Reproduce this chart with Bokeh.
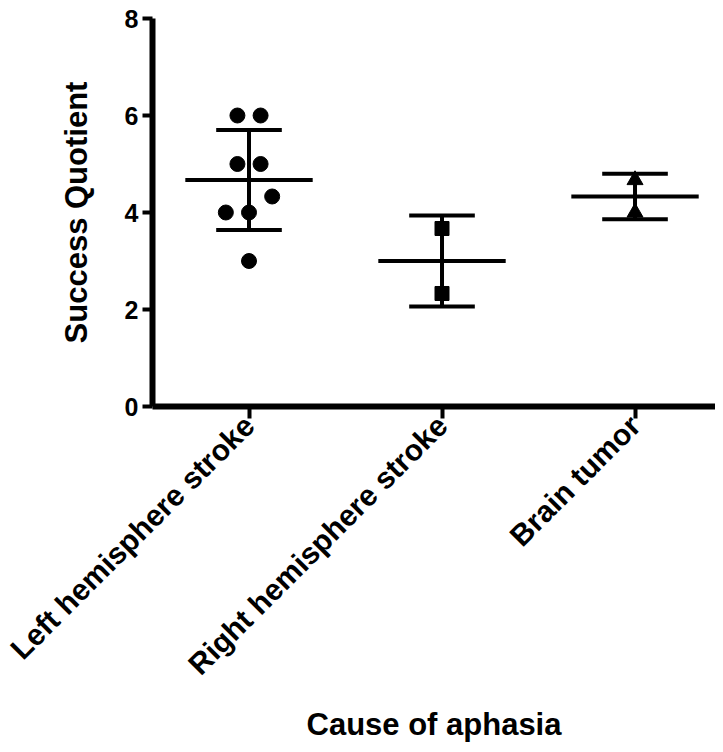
import math
from bokeh.plotting import figure
from bokeh.models import FixedTicker, Range1d
from bokeh.embed import file_html
from bokeh.resources import INLINE

categories = ["Left hemisphere stroke", "Right hemisphere stroke", "Brain tumor"]
cat_pos = [1, 2, 3]

left_vals = [6, 6, 5, 5, 4.33, 4, 4, 3]
left_offsets = [-0.06, 0.06, -0.06, 0.06, 0.12, -0.12, 0.0, 0.0]
right_vals = [3.67, 2.33]
tumor_vals = [4.67, 4.0]

means = [4.67, 3.0, 4.33]
sds = [1.03, 0.94, 0.47]

y_ticks = [0, 2, 4, 6, 8]

FONT = "Liberation Sans"

p = figure(width=715, height=744, output_backend="svg", toolbar_location=None,
           x_range=Range1d(0.5, 3.417), y_range=Range1d(0, 8),
           min_border_left=152, min_border_top=18, min_border_right=0, min_border_bottom=0)
p.grid.visible = False
p.outline_line_color = None
p.background_fill_color = "white"

# axes styling
for ax in (p.xaxis[0], p.yaxis[0]):
    ax.axis_line_width = 6
    ax.major_tick_line_width = 4
    ax.minor_tick_line_color = None
    ax.major_label_text_font = FONT
    ax.major_label_text_font_style = "bold"
    ax.axis_label_text_font = FONT
    ax.axis_label_text_font_style = "bold"
    ax.axis_label_text_font_size = "31px"
    ax.major_label_text_color = "black"
    ax.axis_label_text_color = "black"
    ax.axis_line_color = "black"
    ax.major_tick_line_color = "black"

p.yaxis.ticker = FixedTicker(ticks=y_ticks)
p.yaxis.major_tick_out = 10
p.yaxis.major_tick_in = 0
p.yaxis.major_label_text_font_size = "25px"
p.yaxis.major_label_standoff = 4
p.yaxis.axis_label = "Success Quotient"
p.yaxis.axis_label_standoff = 28

p.xaxis.ticker = FixedTicker(ticks=cat_pos)
p.xaxis.major_label_overrides = {c: lab for c, lab in zip(cat_pos, categories)}
p.xaxis.major_tick_out = 12
p.xaxis.major_tick_in = 0
p.xaxis.major_label_text_font_size = "30px"
p.xaxis.major_label_orientation = math.pi / 4
p.xaxis.major_label_standoff = 2
p.xaxis.axis_label = "Cause of aphasia"
p.xaxis.axis_label_standoff = 11

# points
p.scatter([cat_pos[0] + o for o in left_offsets], left_vals, marker="circle",
          size=15, color="black")
p.scatter([cat_pos[1]] * len(right_vals), right_vals, marker="square",
          size=14, color="black")
p.scatter([cat_pos[2]] * len(tumor_vals), tumor_vals, marker="triangle",
          size=16, color="black")

# mean and SD bars
mean_hw = 0.33
cap_hw = 0.17
lw = 4
for x, m, s in zip(cat_pos, means, sds):
    p.segment(x0=[x - mean_hw], y0=[m], x1=[x + mean_hw], y1=[m],
              line_color="black", line_width=lw)
    p.segment(x0=[x], y0=[m - s], x1=[x], y1=[m + s],
              line_color="black", line_width=lw)
    p.segment(x0=[x - cap_hw, x - cap_hw], y0=[m - s, m + s],
              x1=[x + cap_hw, x + cap_hw], y1=[m - s, m + s],
              line_color="black", line_width=lw)

open("out.html", "w").write(file_html(p, INLINE))
